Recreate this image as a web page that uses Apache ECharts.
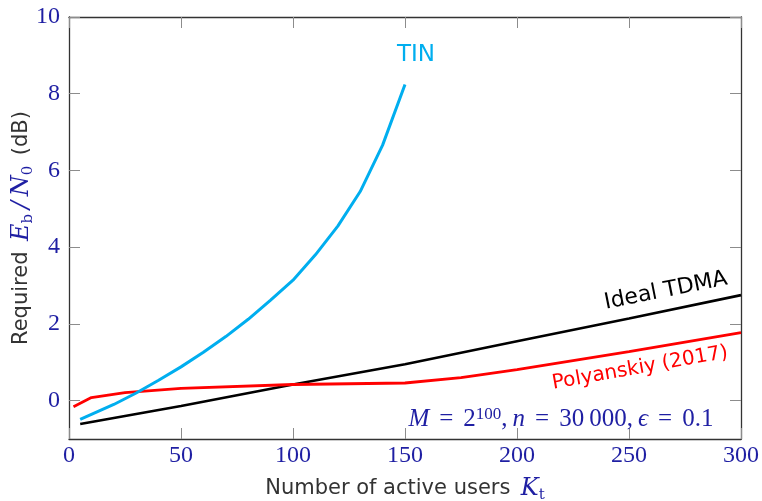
<!DOCTYPE html>
<html>
<head>
<meta charset="utf-8">
<script src="https://cdn.jsdelivr.net/npm/echarts@6/dist/echarts.min.js"></script>
<style>
  html, body { margin: 0; padding: 0; background: #fff; }
  #chart { width: 762px; height: 501px; }
</style>
</head>
<body>
<div id="chart"></div>
<script>
// Axis ticks
const xTicks = [0, 50, 100, 150, 200, 250, 300];
const yTicks = [0, 2, 4, 6, 8, 10];

// TIN
const tinK  = [5, 10, 20, 30, 40, 50, 60, 70, 80, 90, 100, 110, 120, 130, 140, 150];
const tinEb = [-0.49, -0.36, -0.1, 0.2, 0.53, 0.88, 1.26, 1.67, 2.12, 2.62, 3.14, 3.8, 4.55, 5.45, 6.66, 8.24];

// Ideal TDMA
const tdmaK  = [5, 50, 100, 150, 200, 250, 300];
const tdmaEb = [-0.61, -0.14, 0.42, 0.95, 1.55, 2.14, 2.75];

// Polyanskiy (2017)
const polyK  = [2, 10, 25, 50, 100, 150, 175, 200, 250, 300];
const polyEb = [-0.16, 0.08, 0.21, 0.32, 0.42, 0.46, 0.6, 0.81, 1.28, 1.77];

const zip = (xs, ys) => xs.map((x, i) => [x, ys[i]]);

const BLUE = '#1f1fa3';
const GREY_TXT = '#333333';
const CYAN = '#00aeef';
const SERIF = '"Liberation Serif", "DejaVu Serif", serif';
const MATH = '"DejaVu Serif", "Liberation Serif", serif';
const SANS = '"DejaVu Sans", "Noto Sans", sans-serif';

const chart = echarts.init(document.getElementById('chart'), null, { renderer: 'canvas' });

const tickStyle = { show: true, inside: true, length: 11, lineStyle: { color: '#8c8c8c', width: 1 } };
const lineStyle = { show: true, onZero: false, lineStyle: { color: '#333', width: 1.3 } };

// Rich styles for axis titles: sans words, italic math symbols, upright subscripts
const titleRich = {
  t: { fontFamily: SANS, fontSize: 21, color: GREY_TXT, lineHeight: 28 },
  m: { fontFamily: MATH, fontStyle: 'italic', fontSize: 24, color: BLUE, lineHeight: 28 },
  s: { fontFamily: MATH, fontSize: 15, color: BLUE, lineHeight: 28, verticalAlign: 'bottom' }
};

chart.setOption({
  animation: false,
  backgroundColor: '#fff',
  grid: { left: 69, right: 21, top: 17, bottom: 62, containLabel: false, outerBoundsMode: 'none' },
  xAxis: [
    {
      type: 'value', min: 0, max: 300, interval: 50, position: 'bottom',
      axisLine: lineStyle, axisTick: tickStyle, splitLine: { show: false },
      axisLabel: { color: BLUE, fontFamily: SERIF, fontSize: 24, margin: 5, formatter: v => xTicks.includes(v) ? String(v) : '' },
      name: '{t|Number of active users\u2002}{m|K}{s|t}',
      nameLocation: 'middle', nameGap: 36,
      nameTextStyle: { rich: titleRich }
    },
    {
      type: 'value', min: 0, max: 300, interval: 50, position: 'top',
      axisLine: lineStyle, axisTick: tickStyle, axisLabel: { show: false }, splitLine: { show: false }
    }
  ],
  yAxis: [
    {
      type: 'value', min: -1, max: 10, position: 'left',
      axisLine: lineStyle,
      axisTick: Object.assign({}, tickStyle, { customValues: yTicks }),
      splitLine: { show: false },
      axisLabel: { color: BLUE, fontFamily: SERIF, fontSize: 24, margin: 9, customValues: yTicks },
      name: '{t|Required\u2002}{m|E}{s|b}{m|\u2009/\u2009N}{s|0}{t|\u2002(dB)}',
      nameLocation: 'middle', nameGap: 33, nameMoveOverlap: false,
      nameTextStyle: { rich: titleRich }
    },
    {
      type: 'value', min: -1, max: 10, position: 'right',
      axisLine: lineStyle,
      axisTick: Object.assign({}, tickStyle, { customValues: yTicks }),
      splitLine: { show: false },
      axisLabel: { show: false }
    }
  ],
  series: [
    {
      name: 'TIN', type: 'line', data: zip(tinK, tinEb), showSymbol: false,
      lineStyle: { color: CYAN, width: 3 }, z: 3
    },
    {
      name: 'Ideal TDMA', type: 'line', data: zip(tdmaK, tdmaEb), showSymbol: false,
      lineStyle: { color: '#000', width: 2.6 }, z: 2
    },
    {
      name: 'Polyanskiy (2017)', type: 'line', data: zip(polyK, polyEb), showSymbol: false,
      lineStyle: { color: '#ff0000', width: 2.8 }, z: 2
    }
  ]
});

// Curve labels, anchored in data coordinates
const notes = [
  { at: [154.9, 9.01], rot: 0, style: { text: 'TIN', fill: CYAN, font: '23px ' + SANS } },
  { at: [266.5, 2.86], rot: 11.3, style: { text: 'Ideal TDMA', fill: '#000', font: '22px ' + SANS } },
  { at: [254.9, 0.85], rot: 10.1, style: { text: 'Polyanskiy (2017)', fill: '#ff0000', font: '20px ' + SANS } },
  {
    at: [219.6, -0.5], rot: 0,
    style: {
      text: '{i|M}{e|=}{r|2}{p|100}{r|,\u2009}{i|n}{e|=}{r|30\u2009000,\u2009}{i|\u03f5}{e|=}{r|0.1}',
      rich: {
        i: { fontFamily: SERIF, fontStyle: 'italic', fontSize: 25, fill: BLUE, lineHeight: 28 },
        r: { fontFamily: SERIF, fontSize: 25, fill: BLUE, lineHeight: 28 },
        e: { fontFamily: SERIF, fontSize: 25, fill: BLUE, lineHeight: 28, padding: [0, 10, 0, 10] },
        p: { fontFamily: SERIF, fontSize: 17, fill: BLUE, lineHeight: 28, verticalAlign: 'top' }
      }
    }
  }
];

chart.setOption({
  graphic: notes.map(n => {
    const [px, py] = chart.convertToPixel({ xAxisIndex: 0, yAxisIndex: 0 }, n.at);
    return {
      type: 'text', x: px, y: py, rotation: n.rot * Math.PI / 180, z: 10,
      style: Object.assign({ align: 'center', verticalAlign: 'middle' }, n.style)
    };
  })
});
</script>
</body>
</html>
